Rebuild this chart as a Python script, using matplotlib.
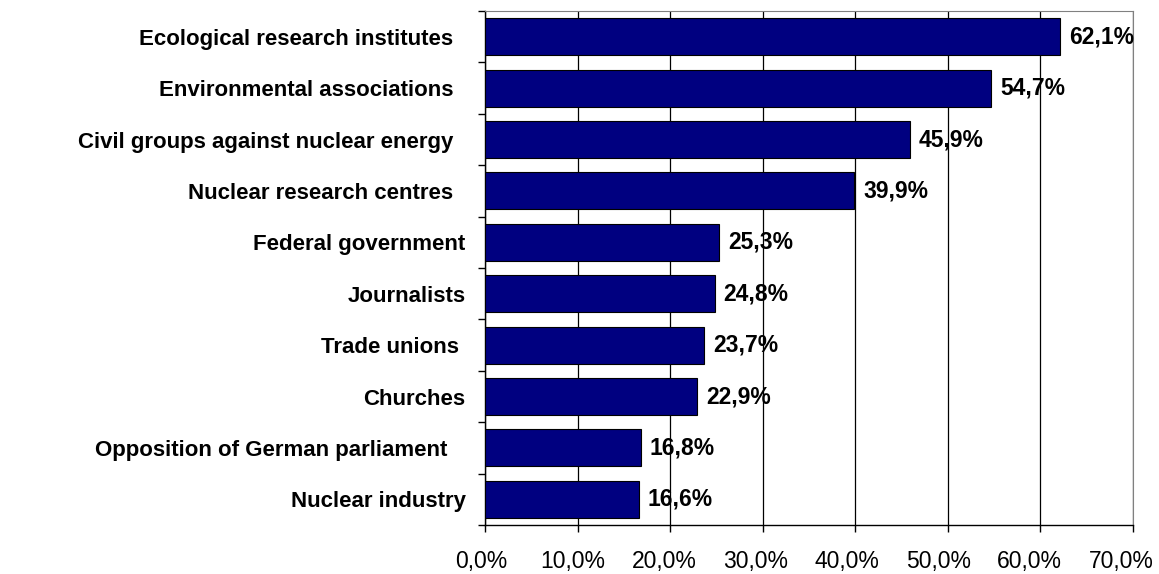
import matplotlib.pyplot as plt
import matplotlib.transforms as mtransforms
import numpy as np

plt.rcParams['font.family'] = ['Liberation Sans', 'DejaVu Sans']

# Data
categories = [
    'Ecological research institutes  ',
    'Environmental associations  ',
    'Civil groups against nuclear energy  ',
    'Nuclear research centres  ',
    'Federal government',
    'Journalists',
    'Trade unions ',
    'Churches',
    'Opposition of German parliament   ',
    'Nuclear industry',
]
values = [62.1, 54.7, 45.9, 39.9, 25.3, 24.8, 23.7, 22.9, 16.8, 16.6]
xticks = [0, 10, 20, 30, 40, 50, 60, 70]

fig = plt.figure(figsize=(11.59, 5.74), dpi=100)
ax = fig.add_axes([485 / 1159, 1 - 525 / 574, (1133 - 485) / 1159, (525 - 11) / 574])

y = np.arange(len(categories))
ax.barh(y, values, height=0.72, color='#000080', edgecolor='black', linewidth=0.8, zorder=3)

for yi, v in zip(y, values):
    ax.text(v + 0.95, yi, f'{v:.1f}%'.replace('.', ','), va='center', ha='left',
            fontsize=16.5, fontweight='bold', zorder=4)

ax.set_xlim(0, 70)
ax.set_ylim(len(categories) - 0.5, -0.5)

ax.set_xticks(xticks)
ax.set_xticklabels([f'{t:.1f}%'.replace('.', ',') for t in xticks], fontsize=16.5)
ax.tick_params(axis='x', direction='out', length=5, width=1, pad=13, color='black')
# labels in the reference sit slightly left of their ticks
for i, lab in enumerate(ax.get_xticklabels()):
    shift = -(4 + 1.1 * i) / 100
    lab.set_transform(lab.get_transform() + mtransforms.ScaledTranslation(shift, 0, fig.dpi_scale_trans))
ax.grid(axis='x', color='black', linewidth=0.9, zorder=0)

ax.set_yticks(y)
ax.set_yticklabels(categories, fontsize=16, fontweight='bold')
ax.tick_params(axis='y', which='major', length=0, pad=14)
ax.set_yticks(np.arange(-0.5, len(categories), 1), minor=True)
ax.tick_params(axis='y', which='minor', direction='out', length=5, width=1, color='black')

for side in ['top', 'right']:
    ax.spines[side].set_color('#808080')
for side in ['left', 'bottom']:
    ax.spines[side].set_color('black')
    ax.spines[side].set_linewidth(1)

plt.savefig('out.png', dpi=100)
